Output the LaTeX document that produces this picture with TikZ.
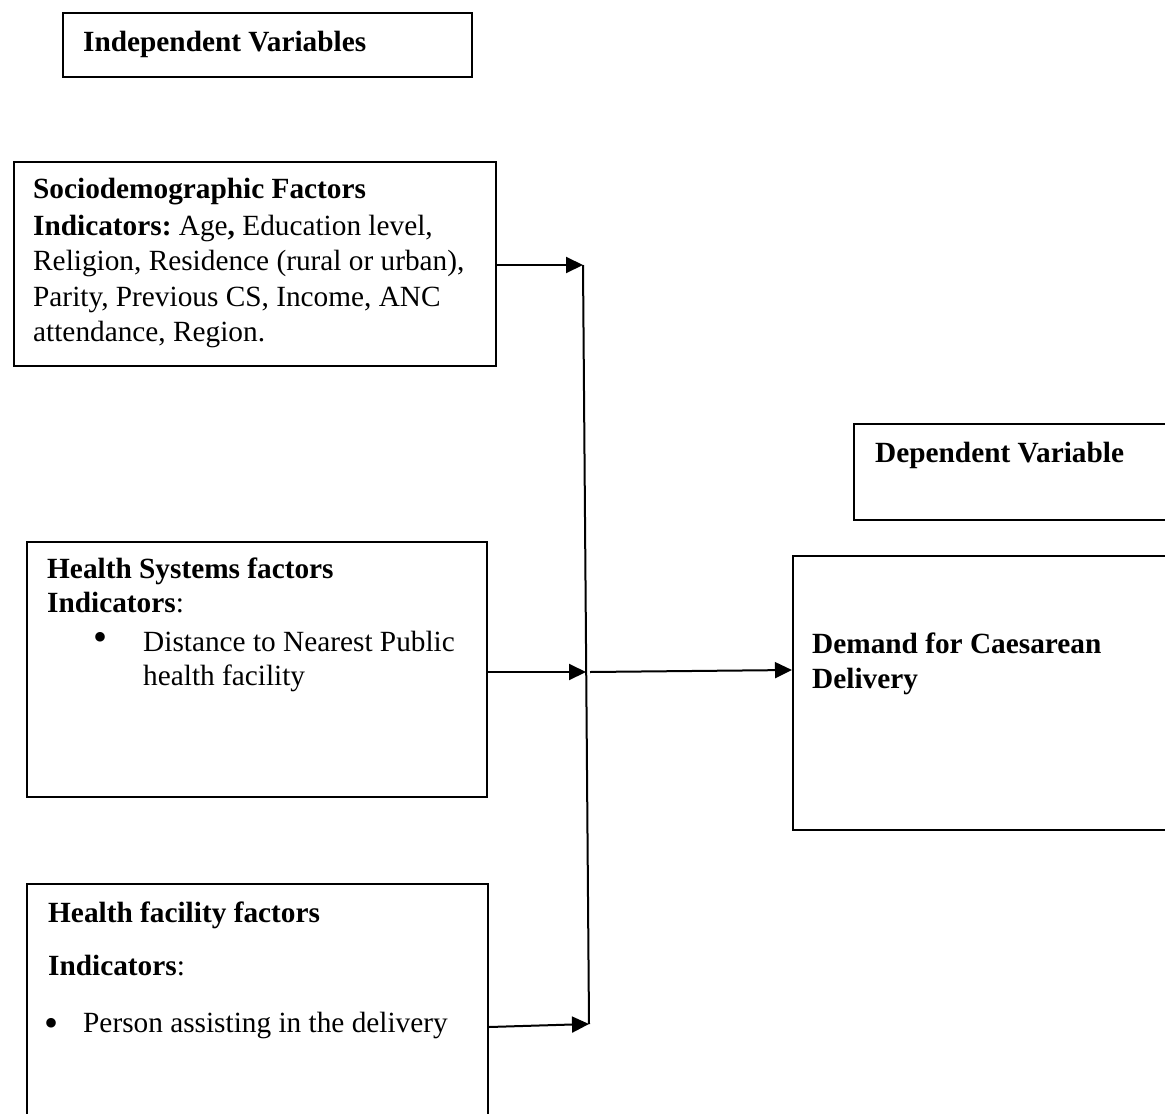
\documentclass[tikz,border=0pt]{standalone}
\usepackage{fontspec}
\setmainfont{Liberation Serif}
\usetikzlibrary{arrows.meta}
\frenchspacing
\begin{document}
\begin{tikzpicture}[x=1pt,y=-1pt,
  box/.style={draw, line width=2pt, inner sep=0pt, anchor=north west},
  txt/.style={anchor=base west, inner sep=0pt, font=\fontsize{29.3}{35.5}\selectfont},
  bul/.style={anchor=center, inner sep=0pt, font=\fontsize{40}{40}\selectfont},
  conn/.style={line width=2pt, -{Triangle[length=17pt,width=16pt]}},
  wire/.style={line width=2pt}]
\useasboundingbox (0,0) rectangle (1165,1114);
\clip (0,0) rectangle (1165,1114);
% boxes
\node[box, minimum width=409pt, minimum height=64pt] (indep) at (62,12) {};
\node[box, minimum width=482pt, minimum height=204pt] (socio) at (13,161) {};
\node[box, minimum width=460pt, minimum height=255pt] (hs) at (26,541) {};
\node[box, minimum width=461pt, minimum height=280pt] (hf) at (26,883) {};
\node[box, minimum width=360pt, minimum height=96pt] (dep) at (853,423) {};
\node[box, minimum width=420pt, minimum height=274pt] (demand) at (792,555) {};
% texts
\node[txt] (tindep) at (83,51) {\textbf{Independent Variables}};
\node[txt] (ts1) at (33,198) {\textbf{Sociodemographic Factors}};
\node[txt] (ts2) at (33,235) {\textbf{Indicators:} Age\textbf{,} Education level,};
\node[txt] (ts3) at (33,270) {Religion, Residence (rural or urban),};
\node[txt] (ts4) at (33,306) {Parity, Previous CS, Income, ANC};
\node[txt] (ts5) at (33,341) {attendance, Region.};
\node[txt] (th1) at (47,578) {\textbf{Health Systems factors}};
\node[txt] (th2) at (47,612) {\textbf{Indicators}:};
\node[bul] (thb) at (101,641) {\textbullet};
\node[txt] (th3) at (143,651) {Distance to Nearest Public};
\node[txt] (th4) at (143,685) {health facility};
\node[txt] (tf1) at (48,922) {\textbf{Health facility factors}};
\node[txt] (tf2) at (48,975) {\textbf{Indicators}:};
\node[bul] (tfb) at (52,1027) {\textbullet};
\node[txt] (tf3) at (83,1032) {Person assisting in the delivery};
\node[txt] (tdep) at (875,462) {\textbf{Dependent Variable}};
\node[txt] (td1) at (812,653) {\textbf{Demand for Caesarean}};
\node[txt] (td2) at (812,688) {\textbf{Delivery}};
% connectors
\coordinate (jtop) at (583,265);
\coordinate (jmid) at (586,672);
\coordinate (jbot) at (589,1024);
\coordinate (mout) at (590,672);
\coordinate (min) at (792,670);
\draw[wire] (jtop) -- (jbot);
\draw[conn] (socio.east |- jtop) -- (jtop);
\draw[conn] (hs.east |- jmid) -- (jmid);
\draw[conn] (hf.east |- 0,1027) -- (jbot);
\draw[conn] (mout) -- (demand.west |- min);
\end{tikzpicture}
\end{document}
